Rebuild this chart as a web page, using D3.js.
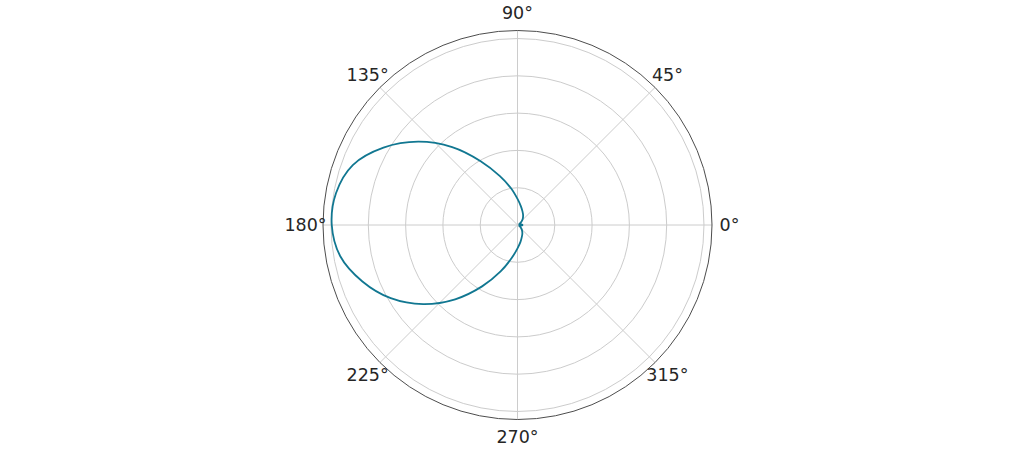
<!DOCTYPE html>
<html>
<head>
<meta charset="utf-8">
<script src="https://cdn.jsdelivr.net/npm/d3@7"></script>
<style>
  body { margin: 0; background: #fff; }
  svg { display: block; }
</style>
</head>
<body>
<figure id="polar" style="margin:0"></figure>
<script>
// angle of each sample in degrees (0 = east, counter-clockwise)
const angles = [0, 10, 20, 30, 40, 50, 60, 70, 80, 90, 100, 110, 120, 130, 140, 150, 160, 170,
  180, 190, 200, 210, 220, 230, 240, 250, 260, 270, 280, 290, 300, 310, 320, 330, 340, 350];
// normalised response
const response = [0.027, 0.02, 0.01, 0.015, 0.028, 0.044, 0.06, 0.078, 0.103, 0.14, 0.2, 0.28, 0.395, 0.545, 0.695, 0.83, 0.94, 0.988,
  0.996, 0.965, 0.885, 0.785, 0.66, 0.52, 0.38, 0.265, 0.18, 0.125, 0.092, 0.068, 0.052, 0.038, 0.025, 0.015, 0.01, 0.02];
const gridRadii = [0.2, 0.4, 0.6, 0.8, 1.0];
const angleTicks = [0, 45, 90, 135, 180, 225, 270, 315];
const angleLabels = ["0°", "45°", "90°", "135°", "180°", "225°", "270°", "315°"];

const width = 1035, height = 450;
const cx = 517.5, cy = 225;
const outer = 194.5;

const svg = d3.select("figure#polar")
  .append("svg")
  .attr("width", width)
  .attr("height", height);

const g = svg.append("g")
  .attr("transform", "translate(" + cx + "," + cy + ")");

const r = d3.scaleLinear()
  .domain([0, 1.043])
  .range([0, outer]);

// lineRadial wants angle from 12 o'clock clockwise, in radians
const toD3 = deg => (90 - deg) * Math.PI / 180;

// grid circles
g.selectAll("circle.grid")
  .data(gridRadii)
  .enter()
  .append("circle")
    .attr("class", "grid")
    .attr("r", d => r(d))
    .attr("fill", "none")
    .attr("stroke", "#cccccc")
    .attr("stroke-width", 1);

// spokes
g.selectAll("line.spoke")
  .data(angleTicks)
  .enter()
  .append("line")
    .attr("x1", 0)
    .attr("y1", 0)
    .attr("x2", d => outer * Math.cos(d * Math.PI / 180))
    .attr("y2", d => -outer * Math.sin(d * Math.PI / 180))
    .attr("stroke", "#cccccc")
    .attr("stroke-width", 1);

// outer frame
g.append("circle")
  .attr("r", outer)
  .attr("fill", "none")
  .attr("stroke", "#4d4d4d")
  .attr("stroke-width", 1);

// angle labels
g.selectAll("text.alabel")
  .data(angleTicks)
  .enter()
  .append("text")
    .attr("x", d => 212 * Math.cos(d * Math.PI / 180))
    .attr("y", d => -212 * Math.sin(d * Math.PI / 180))
    .attr("text-anchor", "middle")
    .attr("dominant-baseline", "central")
    .attr("font-family", "DejaVu Sans, sans-serif")
    .attr("font-size", "17.5px")
    .attr("fill", "#262626")
    .text((d, i) => angleLabels[i]);

// the response curve
const pts = angles.map((a, i) => ({a: a, v: response[i]}));
const line = d3.lineRadial()
  .angle(d => toD3(d.a))
  .radius(d => r(d.v))
  .curve(d3.curveCatmullRomClosed);

g.append("path")
  .datum(pts)
  .attr("d", line)
  .attr("fill", "none")
  .attr("stroke", "#117791")
  .attr("stroke-width", 1.8);
</script>
</body>
</html>
